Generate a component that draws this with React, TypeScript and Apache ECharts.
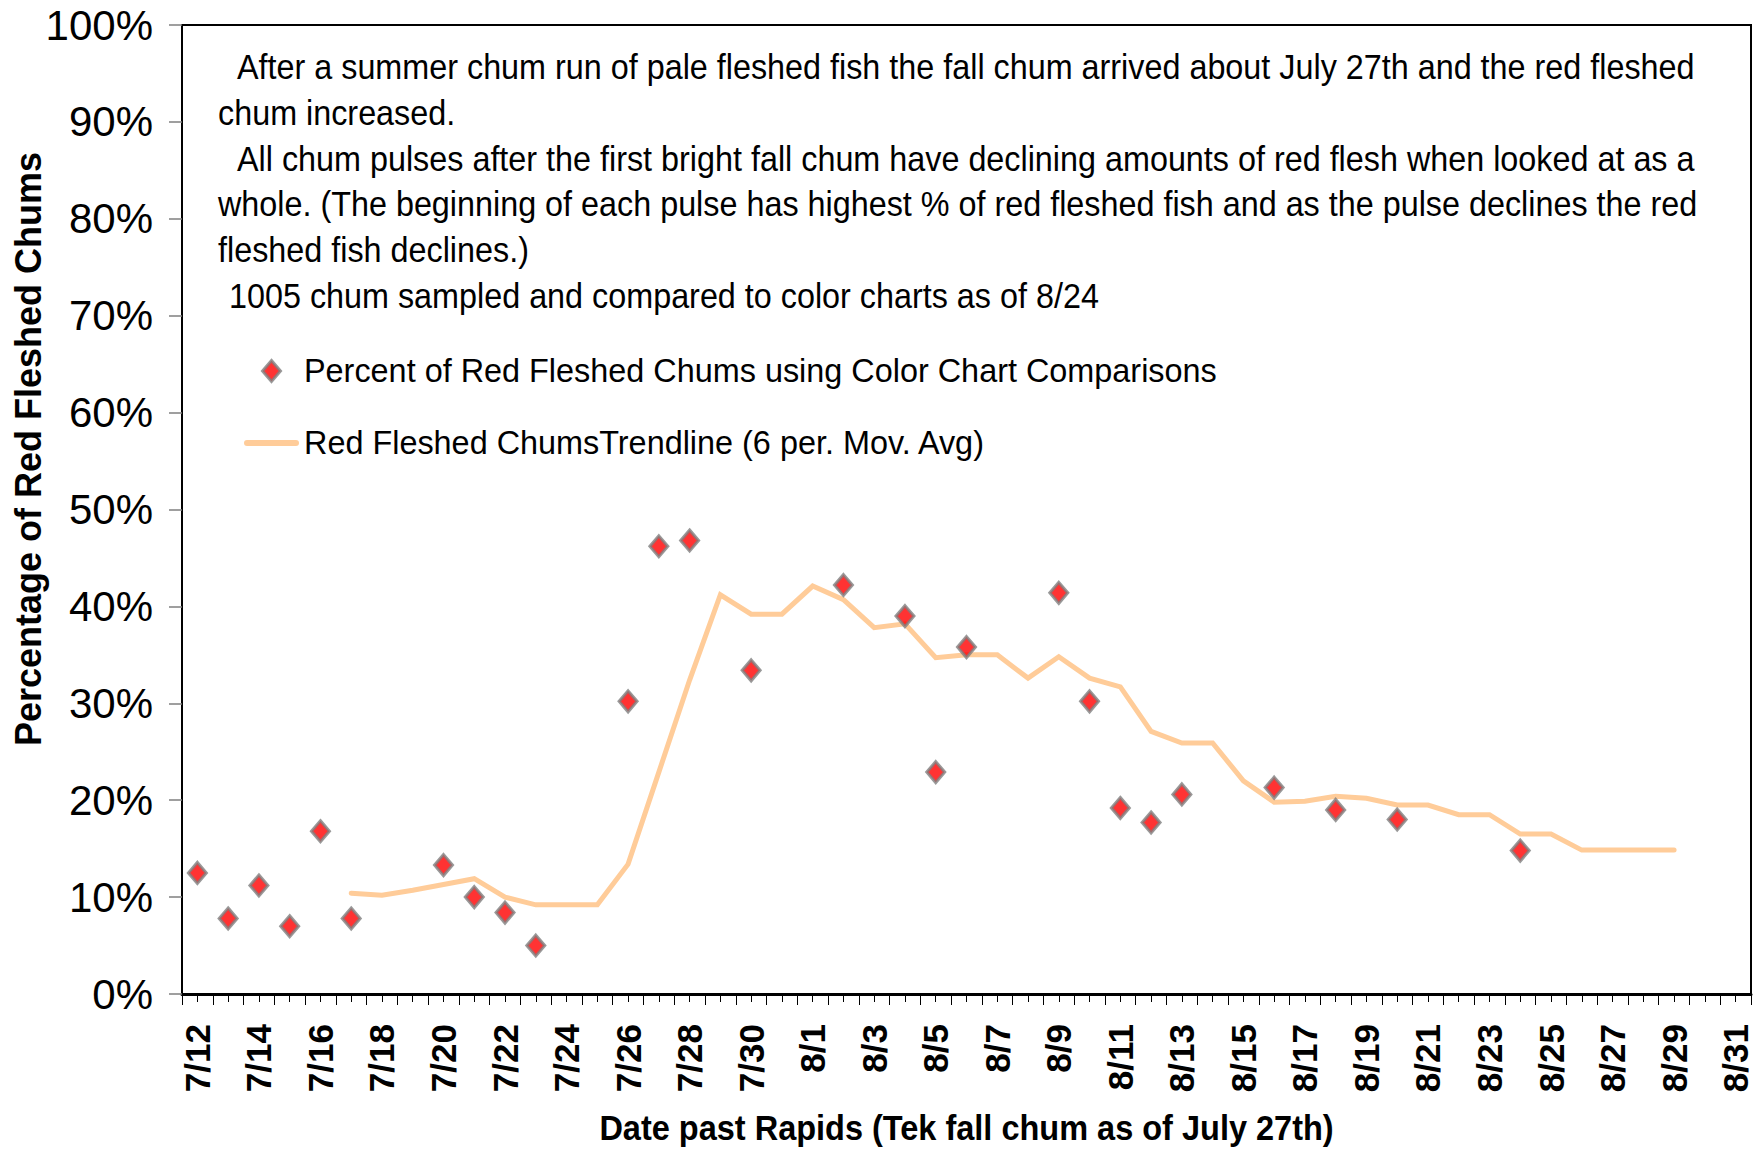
import React, { useEffect, useRef } from "react";
import * as echarts from "echarts";

const FONT = "'Liberation Sans', Arial, Helvetica, sans-serif";

// Categories: one per day past the Rapids
const dates = [
  "7/12", "7/13", "7/14", "7/15", "7/16", "7/17", "7/18", "7/19", "7/20", "7/21",
  "7/22", "7/23", "7/24", "7/25", "7/26", "7/27", "7/28", "7/29", "7/30", "7/31",
  "8/1", "8/2", "8/3", "8/4", "8/5", "8/6", "8/7", "8/8", "8/9", "8/10",
  "8/11", "8/12", "8/13", "8/14", "8/15", "8/16", "8/17", "8/18", "8/19", "8/20",
  "8/21", "8/22", "8/23", "8/24", "8/25", "8/26", "8/27", "8/28", "8/29", "8/30",
  "8/31",
];

// Percent of red fleshed chums (color chart comparisons), null = not sampled
const pctRedFleshed: (number | null)[] = [
  12.5, 7.8, 11.2, 7.0, 16.8, 7.8, null, null, 13.3, 10.0,
  8.4, 5.0, null, null, 30.2, 46.2, 46.8, null, 33.4, null,
  null, 42.2, null, 39.0, 22.9, 35.8, null, null, 41.4, 30.2,
  19.2, 17.7, 20.6, null, null, 21.3, null, 19.0, null, 18.0,
  null, null, null, 14.8, null, null, null, null, null, null,
  null,
];

// 6 per. moving average trendline
const trendMovAvg6: (number | null)[] = [
  null, null, null, null, null, 10.4, 10.2, 10.7, 11.3, 11.9,
  10.0, 9.2, 9.2, 9.2, 13.4, 22.9, 32.4, 41.2, 39.2, 39.2,
  42.1, 40.7, 37.8, 38.2, 34.7, 35.0, 35.0, 32.6, 34.8, 32.6,
  31.7, 27.1, 25.9, 25.9, 22.0, 19.8, 19.9, 20.4, 20.2, 19.5,
  19.5, 18.5, 18.5, 16.5, 16.5, 14.85, 14.85, 14.85, 14.85, null,
  null,
];

const yMin = 0;
const yMax = 100;
const yStep = 10;

const scatterName = "Percent of Red Fleshed Chums using Color Chart Comparisons";
const trendName = "Red Fleshed ChumsTrendline (6 per. Mov. Avg)";
const xTitle = "Date past Rapids (Tek fall chum as of July 27th)";
const yTitle = "Percentage of Red Fleshed Chums";

const noteLines = [
  "After a summer chum run of pale fleshed fish the fall chum arrived about July 27th and the red fleshed",
  "chum increased.",
  "All chum pulses after the first bright fall chum have declining amounts of red flesh when looked at as a",
  "whole. (The beginning of each pulse has highest % of red fleshed fish and as the pulse declines the red",
  "fleshed fish declines.)",
  "1005 chum sampled and compared to color charts as of 8/24",
];
const noteX = [237, 218, 237, 218, 218, 229];
const noteY0 = 67;
const noteStep = 45.8;

export default function App() {
  const ref = useRef<HTMLDivElement>(null);

  useEffect(() => {
    if (!ref.current) return;
    const chart = echarts.init(ref.current, null, { renderer: "svg" });

    const diamondStyle = {
      color: "#FF0000",
      borderColor: "#808080",
      borderWidth: 3,
    };

    const option: any = {
      animation: false,
      backgroundColor: "#ffffff",
      textStyle: { fontFamily: FONT },
      grid: {
        left: 182,
        right: 9,
        top: 25,
        bottom: 156,
        show: true,
        borderColor: "#000000",
        borderWidth: 2,
        backgroundColor: "transparent",
      },
      legend: {
        orient: "vertical",
        left: 239,
        top: 348,
        itemWidth: 55,
        itemHeight: 21,
        itemGap: 36,
        textStyle: { fontSize: 32.4, lineHeight: 36, color: "#000", fontFamily: FONT },
        data: [
          {
            name: scatterName,
            icon: "path://M9,0L18,10.5L9,21L0,10.5Z",
            itemStyle: diamondStyle,
          },
          {
            name: trendName,
            icon: "path://M3,0L52,0A3,3 0 0 1 52,6L3,6A3,3 0 0 1 3,0Z",
            itemStyle: { color: "#FFCC99", borderWidth: 0 },
          },
        ],
      },
      xAxis: [
        {
          type: "category",
          data: dates,
          boundaryGap: true,
          position: "bottom",
          axisLine: { show: true, lineStyle: { color: "#000", width: 3 } },
          axisTick: {
            show: true,
            interval: 0,
            alignWithLabel: false,
            length: 11,
            lineStyle: { color: "#000", width: 1 },
          },
          axisLabel: {
            interval: 1,
            rotate: 90,
            margin: 30,
            fontSize: 35,
            fontWeight: "bold",
            color: "#000",
            fontFamily: FONT,
          },
          splitLine: { show: false },
        },
        {
          type: "category",
          data: dates,
          boundaryGap: true,
          position: "bottom",
          axisLine: { show: false },
          axisTick: {
            show: true,
            interval: 0,
            alignWithLabel: true,
            length: 8,
            lineStyle: { color: "#000", width: 1 },
          },
          axisLabel: { show: false },
          splitLine: { show: false },
        },
      ],
      yAxis: {
        type: "value",
        min: yMin,
        max: yMax,
        interval: yStep,
        axisLine: { show: true, lineStyle: { color: "#000", width: 2 } },
        axisTick: { show: true, length: 13, lineStyle: { color: "#7F7F7F", width: 1.5 } },
        axisLabel: {
          formatter: "{value}%",
          fontSize: 42,
          margin: 29,
          color: "#000",
          fontFamily: FONT,
        },
        splitLine: { show: false },
      },
      graphic: [
        {
          type: "text",
          x: 28,
          y: 449,
          rotation: Math.PI / 2,
          style: {
            text: yTitle,
            font: `bold 36px ${FONT}`,
            fill: "#000",
            textAlign: "center",
            textVerticalAlign: "middle",
          },
        },
        {
          type: "text",
          x: 966.5,
          y: 1127,
          scaleX: 0.903,
          style: {
            text: xTitle,
            font: `bold 36px ${FONT}`,
            fill: "#000",
            textAlign: "center",
            textVerticalAlign: "middle",
          },
        },
        ...noteLines.map((t, i) => ({
          type: "text",
          x: noteX[i],
          y: noteY0 + i * noteStep,
          scaleX: 0.924,
          style: {
            text: t,
            font: `35px ${FONT}`,
            fill: "#000",
            textAlign: "left",
            textVerticalAlign: "middle",
          },
        })),
      ],
      series: [
        {
          name: trendName,
          type: "line",
          xAxisIndex: 0,
          data: trendMovAvg6.map((v) => (v == null ? "-" : v)),
          symbol: "none",
          showSymbol: false,
          lineStyle: { color: "#FFCC99", width: 5, cap: "round", join: "miter" },
          itemStyle: { color: "#FFCC99" },
          z: 2,
        },
        {
          name: scatterName,
          type: "scatter",
          xAxisIndex: 0,
          data: pctRedFleshed.map((v) => (v == null ? "-" : v)),
          symbol: "diamond",
          symbolSize: [18, 21],
          itemStyle: diamondStyle,
          z: 3,
        },
      ],
    };

    chart.setOption(option);
    return () => chart.dispose();
  }, []);

  return (
    <div
      ref={ref}
      style={{
        position: "absolute",
        left: 0,
        top: 0,
        width: 1760,
        height: 1150,
        background: "#fff",
      }}
    />
  );
}
